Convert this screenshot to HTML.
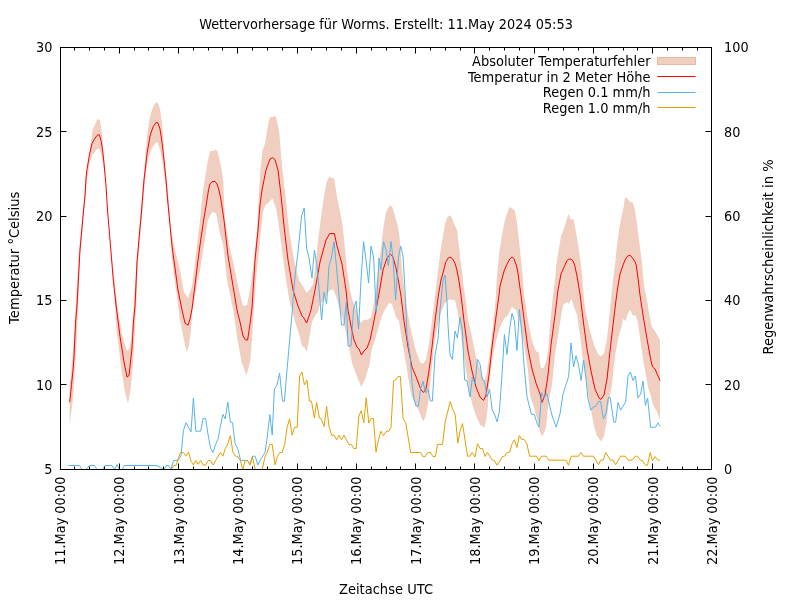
<!DOCTYPE html>
<html lang="de"><head><meta charset="utf-8"><title>Wettervorhersage für Worms</title>
<style>html,body{margin:0;padding:0;background:#fff;overflow:hidden}svg{display:block;will-change:transform;filter:grayscale(0)}text{font-family:'DejaVu Sans','Liberation Sans',sans-serif;font-size:13.33px;fill:#000}</style></head><body>
<svg width="800" height="600" viewBox="0 0 800 600">
<rect width="800" height="600" fill="#fff"/>
<g clip-path="url(#clip)">
<defs><clipPath id="clip"><rect x="60.5" y="47.5" width="651.0" height="422.0"/></clipPath></defs>
<polygon points="69.6,388.0 71.0,372.0 72.5,358.0 75.0,320.0 79.0,250.0 83.0,210.0 86.0,178.0 87.3,170.0 89.8,151.0 92.5,130.0 95.0,124.4 97.1,119.4 99.8,119.4 101.2,127.5 102.2,136.2 103.1,148.8 104.4,161.2 105.2,172.0 107.0,198.0 109.0,228.0 113.0,268.0 118.0,310.0 122.0,334.0 125.0,345.0 127.0,351.0 129.0,349.0 131.0,340.0 133.0,318.0 136.0,270.0 139.0,232.0 141.0,210.0 143.0,186.0 144.4,170.0 145.6,151.2 147.5,132.5 149.4,120.0 151.9,110.0 154.4,104.4 156.5,102.1 158.8,104.4 160.6,112.5 161.9,122.5 163.1,136.2 164.0,151.2 165.6,170.0 167.0,182.0 169.6,210.0 171.0,230.0 175.0,250.0 180.0,270.0 184.0,292.0 188.0,298.0 192.0,286.0 196.0,254.0 200.0,220.0 203.0,190.0 205.6,175.0 207.5,162.5 209.4,153.8 210.4,150.9 213.1,150.9 215.6,149.4 217.5,151.2 219.4,158.8 221.2,167.5 222.5,175.0 223.3,182.0 224.0,200.0 225.0,220.0 229.0,244.0 234.0,266.0 238.0,286.0 243.0,306.0 247.0,305.0 250.0,290.0 254.0,260.0 257.0,230.0 258.0,210.0 260.0,175.0 261.2,162.5 262.5,150.0 265.0,143.8 266.9,131.2 268.8,121.2 270.0,117.1 273.1,116.9 274.8,115.6 276.2,118.1 278.1,126.2 279.4,133.8 280.2,143.8 281.2,156.2 282.2,167.5 283.1,175.0 284.0,184.0 286.0,200.0 289.0,230.0 294.0,260.0 299.0,280.0 304.0,288.0 306.6,293.0 310.0,289.0 313.0,284.0 316.0,260.0 318.1,240.0 320.0,225.0 322.5,206.2 325.0,190.0 326.9,181.2 329.4,176.5 331.2,177.9 333.8,177.9 335.0,183.8 336.9,196.2 339.4,208.8 341.2,217.5 342.8,227.5 344.1,240.0 347.0,270.0 350.0,290.0 352.5,300.0 356.2,310.0 360.6,323.0 363.1,320.2 368.1,319.4 371.2,316.9 373.5,305.0 375.5,290.0 378.0,270.0 380.0,256.0 381.9,240.0 383.8,225.0 385.6,213.8 388.1,208.1 390.6,205.2 392.5,207.5 394.4,213.8 396.2,220.0 398.1,227.5 399.4,236.2 400.3,246.0 402.0,270.0 405.0,295.0 408.0,315.0 412.0,335.0 416.0,351.0 420.0,362.0 423.0,364.0 426.0,359.0 429.0,343.0 432.0,321.0 435.0,295.0 437.0,280.0 438.1,270.0 440.0,253.8 442.5,238.8 445.0,223.8 447.5,216.9 450.0,215.2 451.9,218.1 454.4,224.4 457.2,230.6 458.1,238.8 459.4,250.0 460.6,261.2 461.9,270.0 463.0,282.0 465.0,295.0 468.0,319.0 472.0,337.0 476.0,357.0 480.0,369.0 483.0,379.0 485.0,380.0 487.0,371.0 490.0,351.0 493.0,325.0 496.0,295.0 496.5,282.0 497.5,270.0 499.4,251.2 501.9,235.0 505.0,220.0 507.5,211.9 509.4,206.9 511.2,208.1 514.8,210.6 516.2,217.5 517.5,227.5 518.8,238.8 520.0,250.0 521.2,262.5 522.1,270.0 524.0,294.0 528.0,321.0 532.0,341.0 535.0,349.0 536.9,351.9 538.8,352.2 539.8,362.5 541.2,368.5 543.8,367.5 546.2,361.2 548.1,350.0 550.0,325.0 553.0,295.0 555.0,280.0 556.2,265.0 558.1,252.5 560.0,242.5 561.2,235.6 563.8,229.4 566.2,221.2 568.4,213.8 570.0,218.1 571.5,220.0 573.5,218.8 575.0,226.2 576.9,237.5 578.8,250.0 581.0,265.0 582.5,280.0 584.0,300.0 586.0,313.0 590.0,331.0 594.0,345.0 598.0,354.0 601.0,356.6 604.0,353.0 607.0,339.0 609.0,319.0 611.0,300.0 613.0,280.0 615.0,265.0 616.9,246.2 619.4,227.5 621.9,215.0 623.8,206.2 625.0,196.9 627.5,198.8 630.0,201.9 632.5,201.9 634.4,207.5 636.2,217.5 638.1,232.5 640.0,247.5 641.9,262.5 644.0,286.0 646.9,300.0 649.4,315.0 651.9,326.9 654.4,330.0 660.0,340.0 660.0,420.0 656.9,411.2 653.1,405.0 650.6,395.0 648.0,387.0 644.0,365.0 641.0,345.0 638.0,323.0 635.6,315.0 633.0,316.0 630.4,310.0 628.0,313.0 625.6,321.0 623.0,319.0 622.0,325.0 619.0,335.0 615.0,355.0 612.0,385.0 610.0,395.0 608.1,407.5 606.5,422.5 604.0,436.2 601.0,441.4 596.6,435.0 593.5,423.8 591.2,410.0 589.0,400.0 587.0,385.0 583.0,361.0 580.0,335.0 577.0,315.0 574.0,307.0 571.4,298.6 569.0,304.0 567.0,302.0 563.0,305.0 559.0,329.0 555.0,355.0 552.0,385.0 549.0,400.0 547.5,411.2 546.2,426.2 544.4,432.5 541.9,436.4 540.6,433.8 538.8,426.2 535.0,411.2 530.0,395.0 528.0,371.0 524.0,345.0 520.0,323.0 516.0,310.0 512.0,307.0 508.0,315.0 504.0,319.0 500.0,327.0 496.0,341.0 492.0,361.0 489.0,385.0 487.8,407.5 486.2,420.0 484.4,428.0 480.0,424.4 476.2,416.2 472.5,405.0 470.0,395.0 466.0,371.0 462.0,343.0 458.0,313.0 455.0,300.0 449.0,299.4 445.0,303.0 440.0,315.0 435.0,339.0 432.0,365.0 429.6,390.0 428.8,398.8 427.5,407.5 425.6,416.5 423.4,421.2 421.2,417.0 418.8,410.5 415.0,403.5 411.2,395.0 408.5,380.0 406.0,363.0 402.0,341.0 399.0,321.0 396.0,317.0 392.0,304.0 389.0,303.0 384.0,311.0 380.0,322.0 375.0,340.0 371.6,350.0 369.6,364.0 365.5,378.0 361.4,387.0 357.5,378.0 352.3,364.0 347.5,340.0 342.0,316.0 340.0,312.0 336.0,296.0 333.0,289.0 329.0,291.0 324.0,300.0 320.0,304.0 318.0,312.0 316.0,314.0 312.0,322.0 309.0,340.0 306.6,352.0 305.0,348.0 302.0,346.0 299.0,334.0 295.0,322.0 292.0,310.0 290.0,304.0 286.0,280.0 282.0,250.0 278.0,220.0 276.0,208.0 272.4,198.4 265.0,206.0 263.0,212.0 260.0,240.0 256.0,280.0 253.8,310.0 252.6,330.0 250.5,360.0 246.6,375.5 241.5,362.0 237.5,340.0 233.2,310.0 232.0,304.0 227.0,280.0 223.0,244.0 220.0,234.0 216.0,213.0 212.0,212.0 208.0,220.0 204.0,245.0 200.0,270.0 196.0,290.0 192.4,310.0 191.0,330.0 189.0,345.0 186.9,352.6 185.0,345.0 182.0,330.0 180.0,320.0 176.0,290.0 172.0,260.0 170.0,226.0 167.0,198.0 165.0,180.0 163.0,166.0 161.0,154.0 158.0,143.0 156.0,142.4 152.0,148.0 148.0,160.0 145.0,180.0 143.0,205.0 141.0,226.0 138.0,262.0 136.5,300.0 135.0,330.0 132.5,370.0 130.5,390.0 128.0,404.0 124.5,390.0 121.5,370.0 116.5,330.0 114.5,295.0 111.0,250.0 108.0,214.0 106.5,192.0 105.0,175.0 102.5,161.0 101.2,153.8 99.4,149.0 97.0,149.0 96.0,150.4 93.0,154.0 90.0,162.0 87.0,180.0 84.0,212.0 80.0,254.0 77.6,322.0 76.8,340.0 75.0,368.0 74.0,385.0 72.5,403.0 69.6,425.5" fill="#f0cfc0" stroke="none"/>
<polyline points="69.7,402.2 71.5,384.5 73.0,370.0 73.8,360.0 75.6,322.0 77.0,305.0 80.0,250.0 83.6,210.0 85.0,196.0 86.0,178.0 86.9,170.0 89.4,155.0 91.9,143.8 95.0,138.1 97.8,134.8 99.4,134.8 101.2,141.2 102.5,150.0 103.8,161.2 104.6,170.0 106.0,186.0 107.5,210.0 110.0,240.0 113.3,280.0 116.0,305.0 120.0,336.5 124.0,362.0 127.0,377.0 129.0,375.6 132.0,348.0 133.6,320.0 135.0,306.0 137.0,262.0 140.0,228.0 141.6,210.0 144.0,180.0 147.0,154.0 150.0,136.0 153.0,127.0 156.0,122.4 158.0,123.0 160.0,129.0 162.0,142.0 164.0,160.0 166.0,180.0 168.0,204.0 169.5,220.0 172.0,246.0 178.0,290.0 182.0,310.0 185.0,323.0 188.1,325.2 190.0,319.0 192.0,309.0 195.0,285.0 198.0,260.0 201.0,238.0 204.0,218.0 207.0,200.0 208.5,190.0 210.0,184.0 212.0,181.6 215.0,181.4 217.0,184.0 219.0,190.0 221.0,200.0 224.0,220.0 228.0,256.0 233.0,286.0 237.0,310.0 240.0,322.0 243.0,336.0 245.6,340.0 247.6,340.0 250.0,324.0 252.0,308.0 255.0,260.0 258.0,230.0 260.0,205.0 262.0,190.0 266.0,170.0 270.0,159.0 272.6,157.6 275.0,159.6 278.0,170.0 281.0,195.0 284.0,226.0 288.0,260.0 293.0,290.0 298.0,306.0 302.0,316.0 304.0,318.0 306.6,323.0 309.0,316.0 311.0,310.0 315.0,290.0 320.0,262.0 326.0,240.0 329.6,233.6 334.4,233.6 337.0,246.0 342.0,264.0 346.0,290.0 348.0,310.0 351.0,326.0 354.0,340.0 357.0,347.0 359.0,349.0 361.4,355.0 364.0,351.0 367.0,348.0 370.0,340.0 373.0,326.0 376.0,310.0 380.0,288.0 383.0,270.0 387.0,258.0 390.4,254.0 393.0,257.0 396.0,268.0 399.0,284.0 401.0,296.0 404.0,321.0 408.0,347.0 412.0,367.0 417.0,379.0 421.0,390.0 423.6,392.4 426.0,389.0 429.0,371.0 432.0,347.0 435.0,321.0 438.4,295.0 441.0,280.0 443.8,270.0 445.6,262.5 448.1,258.1 450.0,257.1 452.5,258.8 455.0,263.1 456.9,270.0 459.0,281.0 461.0,295.0 464.0,321.0 468.0,351.0 472.0,371.0 476.0,387.0 480.0,397.0 483.6,400.4 486.0,395.0 489.0,375.0 492.0,347.0 496.0,317.0 499.0,295.0 500.0,286.0 504.4,270.0 507.5,263.1 510.0,258.8 512.1,256.9 514.0,258.8 516.2,265.0 517.5,270.0 520.0,288.0 521.0,295.0 524.0,319.0 528.0,349.0 532.0,369.0 536.0,383.0 540.0,394.0 542.0,402.4 545.0,395.0 548.0,375.0 551.0,345.0 555.0,315.0 558.0,290.0 561.0,274.0 565.0,265.0 566.9,260.6 568.8,259.1 571.2,259.1 573.1,261.2 574.6,265.0 577.0,276.0 580.0,294.0 583.0,319.0 587.0,349.0 591.0,371.0 595.0,389.0 599.0,398.0 601.0,399.4 604.0,395.0 607.0,379.0 610.0,351.0 613.0,325.0 617.0,292.0 620.0,274.0 623.1,265.0 625.0,260.0 626.9,256.9 629.0,255.2 630.6,255.6 633.1,258.8 635.0,261.9 636.2,265.0 638.0,278.0 640.0,295.0 643.0,315.0 647.0,339.0 651.0,361.0 652.6,367.0 655.0,369.0 660.0,380.6" fill="none" stroke="#ff0000" stroke-width="1" stroke-linejoin="miter" stroke-miterlimit="10"/>
<polyline points="68.5,465.5 79.5,465.5 82.0,469.5 86.0,469.5 89.4,465.5 94.4,465.5 97.0,469.5 102.5,469.5 105.0,465.5 112.0,465.5 114.5,469.5 117.0,464.5 119.5,469.5 122.0,469.5 124.5,465.5 157.0,465.5 160.0,467.5 163.8,469.5 166.2,465.6 168.5,465.6 171.0,469.5 173.5,460.4 178.1,460.4 181.0,455.6 183.4,430.6 185.9,422.8 188.5,427.2 191.0,431.9 193.4,398.1 195.8,431.2 200.6,431.2 203.1,418.4 205.6,418.4 208.1,435.0 210.6,448.1 213.1,452.5 215.6,444.4 218.1,438.8 220.4,426.2 222.9,414.4 225.2,418.8 227.8,402.2 230.4,422.2 232.5,422.5 235.2,443.8 237.8,448.8 240.6,460.4 247.5,460.4 250.0,464.4 252.5,456.2 255.2,456.2 257.8,465.0 260.0,460.6 265.0,452.5 267.2,437.5 269.8,414.6 272.2,435.0 274.4,389.0 277.0,385.0 279.6,373.0 282.5,401.2 284.4,401.2 287.0,370.0 290.0,336.0 292.4,310.0 293.0,300.0 295.0,276.0 298.0,252.0 301.6,216.0 304.2,208.0 306.6,248.0 309.0,258.0 312.0,278.0 314.4,250.0 317.0,266.0 319.6,296.0 321.6,320.0 324.0,292.4 326.6,304.0 329.0,266.0 331.4,258.0 334.0,241.6 336.6,268.0 339.0,296.0 341.6,325.0 344.0,325.0 346.4,301.0 348.0,346.0 351.0,346.0 353.5,310.0 356.0,301.0 358.6,329.0 361.0,280.0 363.6,241.6 366.0,260.0 368.6,283.0 371.0,246.0 373.6,257.0 376.2,312.5 379.0,258.0 381.0,270.0 383.6,241.6 386.0,250.0 388.4,266.0 391.0,241.6 393.0,258.0 395.6,300.0 398.4,258.0 400.6,246.0 403.0,256.0 405.0,290.0 407.0,335.0 410.0,355.0 412.0,383.0 414.0,399.0 416.0,406.0 418.4,406.0 420.6,389.0 423.0,381.4 425.6,393.0 428.0,389.4 430.4,401.0 432.4,401.0 435.0,355.0 438.0,339.0 440.0,310.0 443.0,280.0 445.0,275.0 447.0,302.0 448.0,325.0 450.0,355.0 452.4,359.4 455.0,331.0 457.4,338.0 460.0,317.4 462.4,331.0 464.6,380.0 467.0,380.6 470.0,397.0 472.4,377.0 475.0,384.0 477.4,359.4 480.0,364.0 482.4,380.0 484.4,381.0 487.0,397.0 489.6,389.4 492.2,410.0 494.8,415.0 497.1,421.9 499.4,411.2 502.0,375.0 504.4,334.6 507.0,354.6 509.6,329.0 512.0,313.4 514.4,321.0 517.0,350.6 519.4,309.4 522.0,335.0 524.0,365.0 527.0,397.0 531.5,414.4 534.4,414.4 536.9,423.1 539.1,427.2 541.6,392.6 544.0,398.0 546.6,393.0 549.0,403.0 551.9,415.0 556.2,427.2 560.0,413.8 563.0,394.0 568.6,376.6 571.0,343.0 573.6,367.0 576.0,355.6 578.6,365.0 581.0,380.6 583.6,360.0 586.0,379.0 588.0,399.0 590.9,410.2 593.5,406.9 595.6,406.5 598.8,401.2 600.6,401.5 603.4,418.8 605.9,413.8 608.4,397.5 610.2,397.5 613.8,422.2 615.6,422.2 618.1,402.5 620.6,410.2 625.6,401.9 628.0,376.0 630.4,372.0 633.0,380.6 635.4,376.0 638.0,398.0 640.6,394.0 643.0,381.0 645.4,405.4 647.6,398.0 650.6,427.2 655.6,427.2 657.8,422.8 660.0,426.2" fill="none" stroke="#56b4e9" stroke-width="1" stroke-linejoin="miter" stroke-miterlimit="10"/>
<polyline points="68.5,469.5 171.2,469.5 173.8,465.6 176.2,465.2 178.5,457.5 180.6,452.5 183.4,452.5 185.9,456.2 188.5,452.2 191.0,461.2 193.4,465.0 195.8,460.6 198.1,464.4 200.6,460.6 203.1,465.0 205.6,465.2 208.1,460.6 210.6,460.6 213.1,465.0 215.6,460.6 218.1,456.2 220.4,452.5 222.9,456.2 225.2,448.8 227.8,443.8 230.4,435.6 232.8,451.9 235.2,456.0 237.8,456.5 240.4,460.6 242.8,469.5 245.2,460.6 247.5,460.6 250.0,465.0 252.5,456.9 255.2,469.5 262.2,469.5 265.0,456.9 267.2,452.5 269.8,444.4 272.2,444.4 275.0,464.8 277.2,456.9 279.6,452.5 282.2,452.5 284.6,444.4 287.1,427.5 289.6,418.8 292.1,435.2 294.5,427.5 297.2,427.2 299.6,376.0 302.0,372.0 304.4,385.0 307.0,380.0 309.4,401.0 311.5,401.2 314.4,418.1 316.6,402.5 319.4,418.1 321.2,418.5 324.1,426.5 326.6,406.5 329.1,426.9 331.6,435.2 334.1,435.2 336.6,439.8 339.0,435.2 341.5,439.8 344.0,435.2 346.2,439.4 348.8,444.4 351.2,444.4 353.8,448.5 356.2,448.5 358.8,416.2 361.2,410.6 363.8,422.8 366.2,397.8 368.8,423.1 371.2,418.5 373.4,418.5 376.0,452.2 378.5,439.4 380.9,431.2 383.4,435.6 386.2,431.5 388.8,431.2 391.0,427.2 393.6,380.6 395.6,380.0 398.0,376.6 400.4,376.6 403.1,418.1 405.9,423.5 410.6,452.5 420.6,452.5 422.9,456.5 425.2,456.5 427.8,452.5 430.4,452.5 432.9,456.5 435.4,456.5 437.5,444.4 442.5,444.4 445.2,421.9 450.2,401.5 452.5,408.8 455.2,414.4 457.8,443.1 460.0,431.2 462.5,423.5 467.5,456.2 469.8,456.2 472.2,452.5 475.0,456.9 477.5,443.8 480.0,448.5 482.5,448.5 485.0,456.5 487.5,452.5 492.2,460.0 494.4,460.6 497.1,465.2 502.5,456.5 504.6,456.2 506.9,452.5 509.6,452.2 511.9,444.4 514.4,439.8 516.9,447.5 519.4,435.6 521.6,439.4 524.1,439.4 526.9,443.8 529.6,456.2 536.5,456.2 539.0,460.6 541.5,456.2 546.2,456.2 548.8,460.2 566.2,460.2 568.5,465.2 571.2,456.2 578.5,456.2 581.0,452.5 583.4,456.2 593.5,456.2 598.5,464.8 600.6,460.2 603.4,460.0 605.6,452.5 610.6,460.2 613.1,460.2 615.6,464.8 620.6,456.2 625.4,456.2 628.1,460.2 632.1,460.2 635.4,456.2 637.5,456.2 640.4,460.2 642.5,460.6 645.4,465.2 647.5,465.2 650.2,452.5 652.5,460.6 655.0,456.6 657.5,460.0 660.0,460.2" fill="none" stroke="#e69f00" stroke-width="1" stroke-linejoin="miter" stroke-miterlimit="10"/>
</g>
<path d="M60.5 469.5v-6M60.5 47.5v6M74.5 469.5v-3M74.5 47.5v3M89.5 469.5v-3M89.5 47.5v3M104.5 469.5v-3M104.5 47.5v3M119.5 469.5v-6M119.5 47.5v6M134.5 469.5v-3M134.5 47.5v3M148.5 469.5v-3M148.5 47.5v3M163.5 469.5v-3M163.5 47.5v3M178.5 469.5v-6M178.5 47.5v6M193.5 469.5v-3M193.5 47.5v3M208.5 469.5v-3M208.5 47.5v3M222.5 469.5v-3M222.5 47.5v3M237.5 469.5v-6M237.5 47.5v6M252.5 469.5v-3M252.5 47.5v3M267.5 469.5v-3M267.5 47.5v3M282.5 469.5v-3M282.5 47.5v3M297.5 469.5v-6M297.5 47.5v6M311.5 469.5v-3M311.5 47.5v3M326.5 469.5v-3M326.5 47.5v3M341.5 469.5v-3M341.5 47.5v3M356.5 469.5v-6M356.5 47.5v6M371.5 469.5v-3M371.5 47.5v3M386.5 469.5v-3M386.5 47.5v3M400.5 469.5v-3M400.5 47.5v3M415.5 469.5v-6M415.5 47.5v6M430.5 469.5v-3M430.5 47.5v3M445.5 469.5v-3M445.5 47.5v3M460.5 469.5v-3M460.5 47.5v3M474.5 469.5v-6M474.5 47.5v6M489.5 469.5v-3M489.5 47.5v3M504.5 469.5v-3M504.5 47.5v3M519.5 469.5v-3M519.5 47.5v3M534.5 469.5v-6M534.5 47.5v6M548.5 469.5v-3M548.5 47.5v3M563.5 469.5v-3M563.5 47.5v3M578.5 469.5v-3M578.5 47.5v3M593.5 469.5v-6M593.5 47.5v6M608.5 469.5v-3M608.5 47.5v3M623.5 469.5v-3M623.5 47.5v3M637.5 469.5v-3M637.5 47.5v3M652.5 469.5v-6M652.5 47.5v6M667.5 469.5v-3M667.5 47.5v3M682.5 469.5v-3M682.5 47.5v3M697.5 469.5v-3M697.5 47.5v3M711.5 469.5v-6M711.5 47.5v6M60.5 469.5h6M711.5 469.5h-6M60.5 384.5h6M711.5 384.5h-6M60.5 300.5h6M711.5 300.5h-6M60.5 216.5h6M711.5 216.5h-6M60.5 131.5h6M711.5 131.5h-6M60.5 47.5h6M711.5 47.5h-6" stroke="#000" stroke-width="1" fill="none"/>
<rect x="60.5" y="47.5" width="651.0" height="422.0" fill="none" stroke="#000" stroke-width="1"/>
<text x="52.5" y="474.0" text-anchor="end" textLength="8.2" lengthAdjust="spacingAndGlyphs">5</text>
<text x="52.5" y="390.0" text-anchor="end" textLength="16.4" lengthAdjust="spacingAndGlyphs">10</text>
<text x="52.5" y="305.0" text-anchor="end" textLength="16.4" lengthAdjust="spacingAndGlyphs">15</text>
<text x="52.5" y="221.0" text-anchor="end" textLength="16.4" lengthAdjust="spacingAndGlyphs">20</text>
<text x="52.5" y="137.0" text-anchor="end" textLength="16.4" lengthAdjust="spacingAndGlyphs">25</text>
<text x="52.5" y="52.0" text-anchor="end" textLength="16.4" lengthAdjust="spacingAndGlyphs">30</text>
<text x="724" y="474.0" textLength="8.2" lengthAdjust="spacingAndGlyphs">0</text>
<text x="724" y="390.0" textLength="16.4" lengthAdjust="spacingAndGlyphs">20</text>
<text x="724" y="305.0" textLength="16.4" lengthAdjust="spacingAndGlyphs">40</text>
<text x="724" y="221.0" textLength="16.4" lengthAdjust="spacingAndGlyphs">60</text>
<text x="724" y="137.0" textLength="16.4" lengthAdjust="spacingAndGlyphs">80</text>
<text x="724" y="52.0" textLength="24.6" lengthAdjust="spacingAndGlyphs">100</text>
<text transform="translate(65.0,476.5) rotate(-90)" text-anchor="end" textLength="88.4" lengthAdjust="spacingAndGlyphs">11.May 00:00</text>
<text transform="translate(124.0,476.5) rotate(-90)" text-anchor="end" textLength="88.4" lengthAdjust="spacingAndGlyphs">12.May 00:00</text>
<text transform="translate(184.0,476.5) rotate(-90)" text-anchor="end" textLength="88.4" lengthAdjust="spacingAndGlyphs">13.May 00:00</text>
<text transform="translate(243.0,476.5) rotate(-90)" text-anchor="end" textLength="88.4" lengthAdjust="spacingAndGlyphs">14.May 00:00</text>
<text transform="translate(302.0,476.5) rotate(-90)" text-anchor="end" textLength="88.4" lengthAdjust="spacingAndGlyphs">15.May 00:00</text>
<text transform="translate(361.0,476.5) rotate(-90)" text-anchor="end" textLength="88.4" lengthAdjust="spacingAndGlyphs">16.May 00:00</text>
<text transform="translate(421.0,476.5) rotate(-90)" text-anchor="end" textLength="88.4" lengthAdjust="spacingAndGlyphs">17.May 00:00</text>
<text transform="translate(480.0,476.5) rotate(-90)" text-anchor="end" textLength="88.4" lengthAdjust="spacingAndGlyphs">18.May 00:00</text>
<text transform="translate(539.0,476.5) rotate(-90)" text-anchor="end" textLength="88.4" lengthAdjust="spacingAndGlyphs">19.May 00:00</text>
<text transform="translate(598.0,476.5) rotate(-90)" text-anchor="end" textLength="88.4" lengthAdjust="spacingAndGlyphs">20.May 00:00</text>
<text transform="translate(658.0,476.5) rotate(-90)" text-anchor="end" textLength="88.4" lengthAdjust="spacingAndGlyphs">21.May 00:00</text>
<text transform="translate(717.0,476.5) rotate(-90)" text-anchor="end" textLength="88.4" lengthAdjust="spacingAndGlyphs">22.May 00:00</text>
<text x="386" y="28.5" text-anchor="middle" textLength="373.7" lengthAdjust="spacingAndGlyphs">Wettervorhersage für Worms. Erstellt: 11.May 2024 05:53</text>
<text x="386" y="593.5" text-anchor="middle" textLength="94.1" lengthAdjust="spacingAndGlyphs">Zeitachse UTC</text>
<text transform="translate(18.8,257.8) rotate(-90)" text-anchor="middle" textLength="132.2" lengthAdjust="spacingAndGlyphs">Temperatur °Celsius</text>
<text transform="translate(773.1,257) rotate(-90)" text-anchor="middle" textLength="195.2" lengthAdjust="spacingAndGlyphs">Regenwahrscheinlichkeit in %</text>
<text x="650.5" y="66.0" text-anchor="end" textLength="178.4" lengthAdjust="spacingAndGlyphs">Absoluter Temperaturfehler</text>
<text x="650.5" y="81.5" text-anchor="end" textLength="182.6" lengthAdjust="spacingAndGlyphs">Temperatur in 2 Meter Höhe</text>
<text x="650.5" y="97.0" text-anchor="end" textLength="107.7" lengthAdjust="spacingAndGlyphs">Regen 0.1 mm/h</text>
<text x="650.5" y="112.5" text-anchor="end" textLength="107.7" lengthAdjust="spacingAndGlyphs">Regen 1.0 mm/h</text>
<rect x="657.5" y="57.5" width="38" height="7" fill="#f0cfc0" stroke="#e8b8a0" stroke-width="1"/>
<path d="M657.5 76.5h38" stroke="#ff0000" stroke-width="1"/>
<path d="M657.5 92.5h38" stroke="#56b4e9" stroke-width="1"/>
<path d="M657.5 107.5h38" stroke="#e69f00" stroke-width="1"/>
</svg></body></html>
